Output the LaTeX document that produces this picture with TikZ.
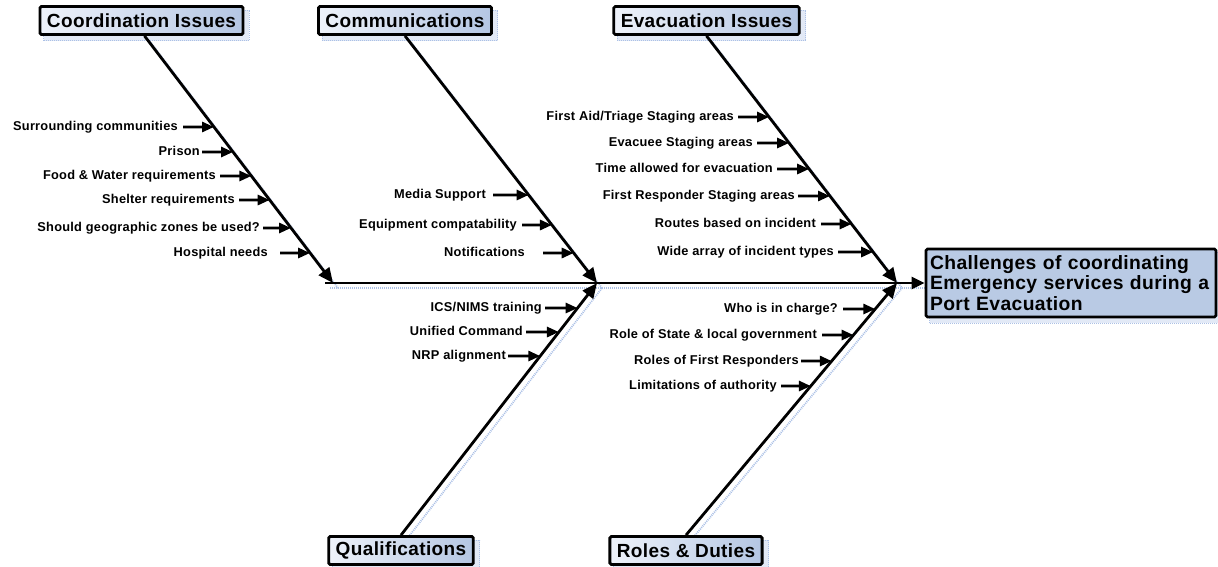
\documentclass[tikz,border=0pt]{standalone}
\usepackage{fontspec}
\setmainfont{Liberation Sans}
\newfontfamily\causefont{Liberation Sans}[LetterSpace=2]
\newfontfamily\itemfont{Liberation Sans}[LetterSpace=2]
\usetikzlibrary{arrows.meta}

\definecolor{boxlight}{RGB}{238,242,250}
\definecolor{boxdark}{RGB}{180,198,227}
\definecolor{titlefill}{RGB}{185,202,228}
\definecolor{shadeblue}{RGB}{172,193,230}

\pgfdeclarelayer{background}
\pgfsetlayers{background,main}

\tikzset{
  bone/.style={line width=2.8pt, -{Triangle[length=15pt,width=13pt]}},
  subarrow/.style={line width=2.8pt, -{Triangle[length=12pt,width=10pt]}},
  shadowline/.style={line width=1.8pt, draw=shadeblue, dash pattern=on 1pt off 1pt},
  shadowbox/.style={fill=shadeblue!35, draw=shadeblue, line width=1pt, dash pattern=on 1pt off 1pt},
  cause/.style={draw, line width=2.8pt, rounded corners=1.5pt,
    left color=boxlight, right color=boxdark,
    minimum height=28pt, inner xsep=7pt, inner ysep=0pt,
    font=\causefont\bfseries\fontsize{19}{21}\selectfont},
  effect/.style={draw, line width=2.8pt, rounded corners=1.5pt, fill=titlefill,
    text width=282pt, align=left, inner xsep=4pt, minimum height=68pt,
    font=\causefont\bfseries\fontsize{19.3}{20.5}\selectfont},
  item/.style={anchor=east, inner sep=0pt, text height=9pt, text depth=2.5pt,
    font=\itemfont\bfseries\fontsize{12.8}{14}\selectfont},
}

% #1 name, #2 text, #3 right edge of text, #4 start of arrow, #5 height, #6 bone
\newcommand\causeitem[6]{%
  \node[item] (#1) at (#3,#5) {#2};
  \coordinate (#1tip) at (intersection of #6 and 0,#5--1218,#5);
  \draw[subarrow] ([xshift=#4-#3]#1.east) -- (#1tip);
}
% soft shadow behind a box
\newcommand\boxshadow[1]{%
  \begin{pgfonlayer}{background}
    \path[shadowbox] ([shift={(5,5)}]#1.south west) rectangle ([shift={(5,5)}]#1.north east);
  \end{pgfonlayer}
}
% soft shadow along a line
\newcommand\lineshadow[2]{%
  \begin{pgfonlayer}{background}
    \draw[shadowline] ([shift={(5,5)}]#1) -- ([shift={(5,5)}]#2);
  \end{pgfonlayer}
}

\begin{document}
\begin{tikzpicture}[x=1pt,y=-1pt]
\useasboundingbox (0,0) rectangle (1218,567);

% cause boxes
\node[cause] (co) at (141.5,20.5) {Coordination Issues};
\node[cause] (cm) at (405,20.5) {Communications};
\node[cause] (ev) at (706.5,20.5) {Evacuation Issues};
\node[cause] (qu) at (401,550.5) {Qualifications};
\node[cause] (ro) at (686,550.5) {Roles \& Duties};
\foreach \b in {co,cm,ev,qu,ro} {\boxshadow{\b}}

% effect box
\node[effect] (ti) at (1071,283) {Challenges of coordinating\\Emergency services during a\\Port Evacuation};
\boxshadow{ti}

% spine and joints
\coordinate (spL) at (325,283);
\coordinate (jC) at (333,283);
\coordinate (j1) at (597,283);
\coordinate (j2) at (897,283);
\coordinate (coS) at ([xshift=3]co.south);
\coordinate (cmS) at (cm.south);
\coordinate (evS) at (ev.south);
\coordinate (quN) at (qu.north);
\coordinate (roN) at (ro.north);

\draw[line width=2.8pt, -{Triangle[length=13pt,width=12pt]}] (spL) -- (ti.west);
\lineshadow{spL}{ti.west}

% main bones
\draw[bone] (coS) -- (jC);
\draw[bone] (cmS) -- (j1);
\draw[bone] (evS) -- (j2);
\draw[bone] (quN) -- (j1);
\draw[bone] (roN) -- (j2);
\lineshadow{coS}{jC}
\lineshadow{cmS}{j1}
\lineshadow{evS}{j2}
\lineshadow{quN}{j1}
\lineshadow{roN}{j2}

% Coordination Issues
\causeitem{c1}{Surrounding communities}{178}{183}{127}{coS--jC}
\causeitem{c2}{Prison}{200}{202}{152}{coS--jC}
\causeitem{c3}{Food \& Water requirements}{216}{220}{176}{coS--jC}
\causeitem{c4}{Shelter requirements}{235}{239}{200}{coS--jC}
\causeitem{c5}{Should geographic zones be used?}{260}{263}{228}{coS--jC}
\causeitem{c6}{Hospital needs}{268}{280}{253}{coS--jC}

% Communications
\causeitem{m1}{Media Support}{486}{493}{195}{cmS--j1}
\causeitem{m2}{Equipment compatability}{517}{522}{225}{cmS--j1}
\causeitem{m3}{Notifications}{525}{543}{253}{cmS--j1}

% Evacuation Issues
\causeitem{e1}{First Aid/Triage Staging areas}{734}{738}{117}{evS--j2}
\causeitem{e2}{Evacuee Staging areas}{753}{757}{143}{evS--j2}
\causeitem{e3}{Time allowed for evacuation}{773}{777}{169}{evS--j2}
\causeitem{e4}{First Responder Staging areas}{795}{798}{196}{evS--j2}
\causeitem{e5}{Routes based on incident}{816}{821}{224}{evS--j2}
\causeitem{e6}{Wide array of incident types}{834}{838}{252}{evS--j2}

% Qualifications
\causeitem{q1}{ICS/NIMS training}{542}{545}{308}{quN--j1}
\causeitem{q2}{Unified Command}{523}{526}{332}{quN--j1}
\causeitem{q3}{NRP alignment}{506}{508}{356}{quN--j1}

% Roles & Duties
\causeitem{r1}{Who is in charge?}{838}{843}{309}{roN--j2}
\causeitem{r2}{Role of State \& local government}{817}{822}{335}{roN--j2}
\causeitem{r3}{Roles of First Responders}{799}{801}{361}{roN--j2}
\causeitem{r4}{Limitations of authority}{777}{781}{386}{roN--j2}
\end{tikzpicture}
\end{document}
